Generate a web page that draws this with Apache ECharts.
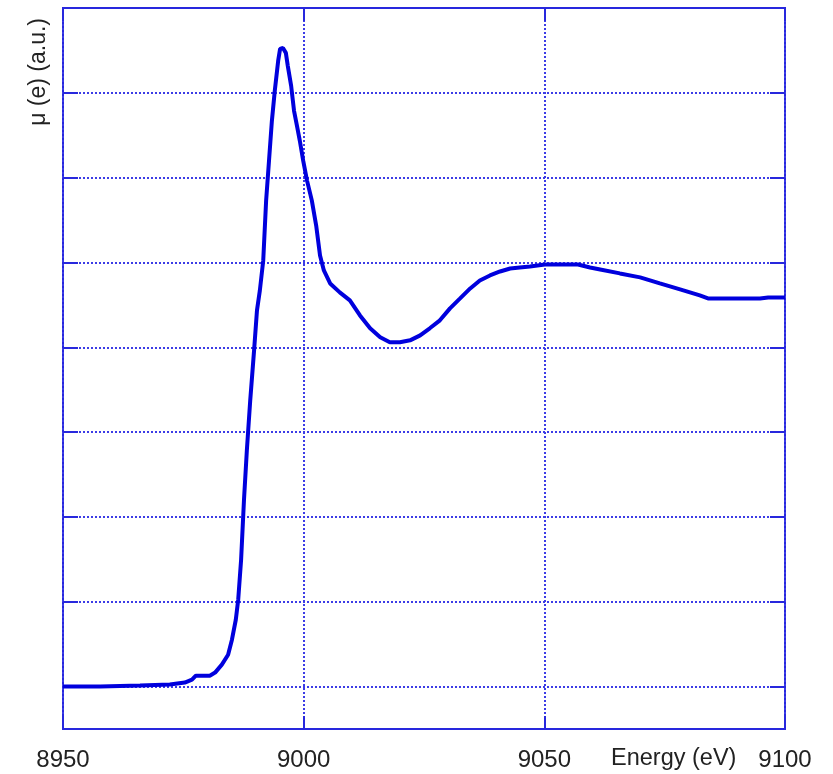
<!DOCTYPE html>
<html><head><meta charset="utf-8">
<script src="https://cdn.jsdelivr.net/npm/echarts@6/dist/echarts.min.js"></script>
<style>html,body{margin:0;padding:0;background:#fff}#c{width:833px;height:774px}</style>
</head><body><div id="c"></div>
<script>
var energy = [8950.0,8957.7,8966.0,8972.2,8975.3,8976.8,8977.6,8980.5,8981.6,8983.0,8984.3,8985.1,8985.9,8986.4,8987.0,8987.6,8988.2,8988.9,8989.7,8990.3,8990.9,8991.6,8992.2,8992.8,8993.4,8994.0,8994.7,8995.1,8995.7,8996.3,8996.7,8997.4,8998.0,8998.6,8999.2,8999.9,9000.7,9001.7,9002.6,9003.4,9004.2,9005.5,9007.5,9009.6,9011.7,9013.8,9015.9,9017.9,9020.0,9022.1,9024.2,9026.2,9028.3,9030.4,9032.5,9034.6,9036.6,9038.7,9040.8,9042.9,9044.9,9047.0,9050.1,9053.3,9057.0,9059.5,9061.6,9065.7,9069.9,9074.0,9078.2,9082.3,9084.0,9086.5,9094.8,9096.5,9100.0];
var mu = [0,0,0.012,0.024,0.047,0.082,0.129,0.129,0.165,0.259,0.376,0.553,0.788,1.024,1.494,2.200,2.788,3.376,3.965,4.435,4.671,5.024,5.729,6.200,6.671,7.024,7.376,7.518,7.529,7.471,7.318,7.082,6.788,6.612,6.435,6.200,5.965,5.729,5.435,5.082,4.906,4.753,4.647,4.553,4.376,4.224,4.118,4.059,4.059,4.082,4.141,4.224,4.318,4.459,4.576,4.694,4.788,4.847,4.894,4.929,4.941,4.953,4.976,4.976,4.976,4.941,4.918,4.871,4.824,4.753,4.682,4.612,4.576,4.576,4.576,4.588,4.588];
var xTicks = [8950, 9000, 9050, 9100];
var yGrid = [0,1,2,3,4,5,6,7];
var xName = 'Energy (eV)';
var yName = 'μ (e) (a.u.)';

var blue = '#2828dd';
var gridBlue = '#3c3ce6';
var chart = echarts.init(document.getElementById('c'));
var data = energy.map(function(e,i){return [e, mu[i]];});
var tickStyle = {color:blue,width:2};
var splitStyle = {color:gridBlue,type:[2,2],width:2};
chart.setOption({
  animation:false,
  grid:{left:63,top:8,width:722,height:721,show:true,borderColor:blue,borderWidth:2,backgroundColor:'transparent'},
  xAxis:[{type:'value',min:8950,max:9100,
    axisLine:{show:false,onZero:false},
    axisTick:{show:true,inside:true,length:13,customValues:xTicks,lineStyle:tickStyle},
    axisLabel:{margin:19,fontFamily:'Liberation Sans, Arial',fontSize:24,color:'#222',customValues:xTicks,formatter:function(v){return String(v);}},
    splitLine:{show:true,lineStyle:splitStyle}},
    {type:'value',position:'top',min:8950,max:9100,
    axisLine:{show:false,onZero:false},axisTick:{show:true,inside:true,length:13,customValues:xTicks,lineStyle:tickStyle},
    axisLabel:{show:false},splitLine:{show:false}}],
  yAxis:[{type:'value',min:-0.5,max:8,
    axisLine:{show:false,onZero:false},
    axisTick:{show:true,inside:true,length:15,customValues:yGrid,lineStyle:tickStyle},
    axisLabel:{show:false},
    splitLine:{show:true,lineStyle:splitStyle}},
    {type:'value',position:'right',min:-0.5,max:8,
    axisLine:{show:false,onZero:false},axisTick:{show:true,inside:true,length:15,customValues:yGrid,lineStyle:tickStyle},
    axisLabel:{show:false},splitLine:{show:false}}],
  graphic:[
    {type:'text',left:611,top:747,style:{text:xName,font:'23.5px "Liberation Sans", Arial',fill:'#222'}},
    {type:'text',x:27,y:18,rotation:Math.PI/2,style:{text:yName,font:'23px "Liberation Sans", Arial',fill:'#222',align:'right',verticalAlign:'top'}}
  ],
  series:[{type:'line',data:data,showSymbol:false,symbol:'none',
    lineStyle:{color:'#0000dd',width:4},z:5}]
});
</script></body></html>
